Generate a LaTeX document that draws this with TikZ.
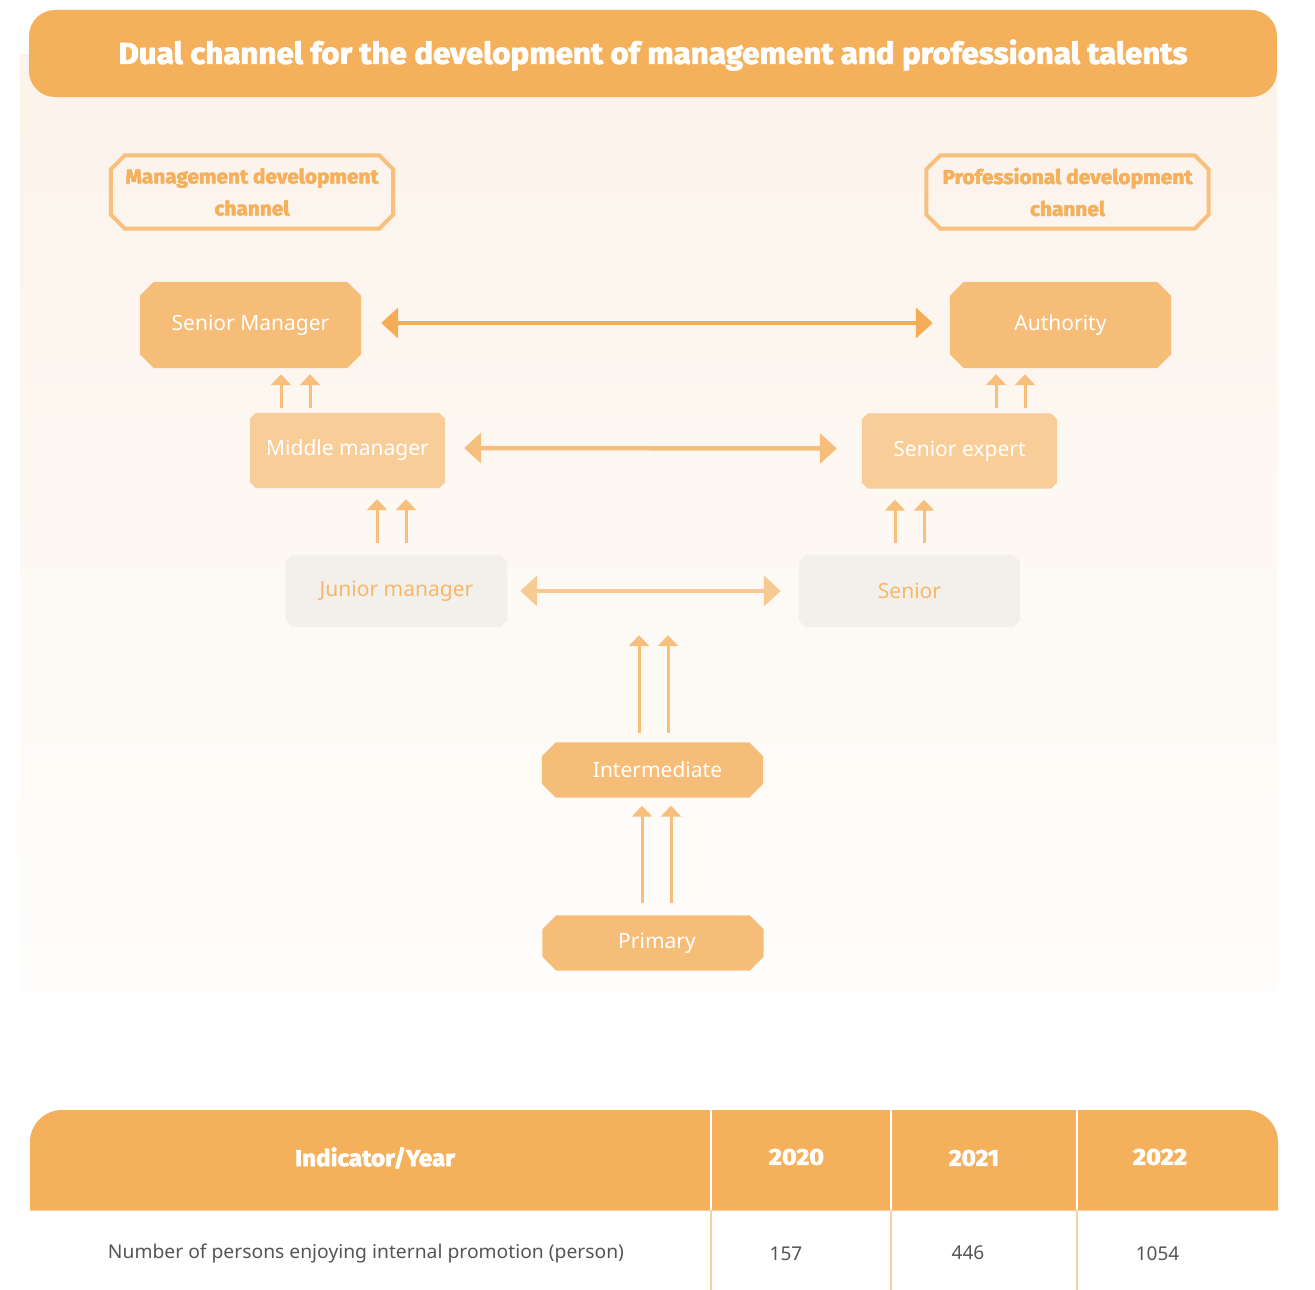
\documentclass[tikz,border=0pt]{standalone}
\usepackage{fontspec}
\usepackage{graphicx}
\setmainfont{Noto Sans}
\newfontfamily\headfont{Fira Sans}[BoldFeatures={FakeBold=2.6}]
\usetikzlibrary{arrows.meta}
\definecolor{barorange}{HTML}{F5B05C}
\definecolor{chanline}{HTML}{F8C07C}
\definecolor{darkfill}{HTML}{F6BD78}
\definecolor{midfill}{HTML}{F9CD97}
\definecolor{lowfill}{HTML}{F3F0EB}
\definecolor{lowtext}{HTML}{F5B86A}
\definecolor{arrowA}{HTML}{F4AC55}
\definecolor{arrowB}{HTML}{F6BE7C}
\definecolor{arrowC}{HTML}{F8CA93}
\definecolor{uparrow}{HTML}{F7BF7B}
\definecolor{creamtop}{HTML}{FCF3EA}
\definecolor{creambot}{HTML}{FEFDFB}
\definecolor{bodytext}{HTML}{555555}
\definecolor{bodyline}{HTML}{F8CFA0}
\newcommand\fitto[2]{\resizebox{#1}{\height}{#2}}
\newcommand\boldface{\headfont\bfseries}
% octagon drawn round a named node: name, chamfer, path options
\newcommand\octbox[3]{\path[#3] ([xshift=#2]#1.north west) -- ([xshift=-#2]#1.north east)
  -- ([yshift=-#2]#1.north east) -- ([yshift=#2]#1.south east) -- ([xshift=-#2]#1.south east)
  -- ([xshift=#2]#1.south west) -- ([yshift=#2]#1.south west) -- ([yshift=-#2]#1.north west) -- cycle;}
\pgfdeclarelayer{bglayer}
\pgfdeclarelayer{boxlayer}
\pgfsetlayers{bglayer,boxlayer,main}
\begin{document}
\begin{tikzpicture}[x=1pt,y=-1pt,
  plainbox/.style={rectangle, inner sep=0pt},
  chanbox/.style={plainbox, minimum width=282pt, minimum height=73pt,
     text=barorange, align=center, font=\boldface\fontsize{20}{32}\selectfont},
  levelbox/.style={plainbox, minimum width=221pt, minimum height=86pt, text=white,
     font=\fontsize{21}{24}\selectfont},
  midbox/.style={plainbox, minimum width=195pt, minimum height=75pt, text=white,
     font=\fontsize{21}{24}\selectfont},
  lowbox/.style={plainbox, minimum width=221pt, minimum height=72pt, text=lowtext,
     font=\fontsize{21}{24}\selectfont},
  basebox/.style={plainbox, minimum width=221pt, minimum height=55pt, text=white,
     font=\fontsize{21}{24}\selectfont},
  dblarrow/.style={line width=4.5pt, {Triangle[width=30pt,length=17pt]}-{Triangle[width=30pt,length=17pt]}},
  uparr/.style={draw=uparrow, line width=3pt, -{Triangle[width=20pt,length=11pt]}},
  hdtext/.style={text=white, font=\boldface\fontsize{23}{26}\selectfont, inner sep=0pt},
  cell/.style={text=bodytext, font=\fontsize{19}{22}\selectfont, inner sep=0pt}
]
\useasboundingbox (0,0) rectangle (1315,1290);
\begin{pgfonlayer}{bglayer}
\fill[white] (0,0) rectangle (1315,1290);
\shade[top color=creamtop, bottom color=creambot] (20,55) rectangle (1277,990);
\end{pgfonlayer}
% title bar
\fill[barorange, rounded corners=26pt] (29,10) rectangle (1277,97);
\node[text=white, font=\boldface\fontsize{30}{32}\selectfont, inner sep=0pt] (title) at (653,55)
  {\fitto{1069pt}{Dual channel for the development of management and professional talents}};

% channel headers
\node[chanbox] (mch) at (252,192) {\fitto{253pt}{Management development}\\\fitto{75pt}{channel}};
\node[chanbox] (pch) at (1067.5,192) {\fitto{250pt}{Professional development}\\\fitto{75pt}{channel}};

% level nodes
\node[levelbox] (sm) at (250.5,325) {Senior Manager};
\node[levelbox] (au) at (1060.5,325) {Authority};
\node[midbox] (mm) at (347.5,450.5) {Middle manager};
\node[midbox] (se) at (959.5,451) {Senior expert};
\node[lowbox] (jm) at (396.5,591) {Junior manager};
\node[lowbox] (sn) at (909.5,591) {Senior};
\node[basebox] (im) at (652.5,770) {\hspace*{10pt}Intermediate};
\node[basebox] (pr) at (653,943) {\hspace*{8pt}Primary};

\begin{pgfonlayer}{boxlayer}
\octbox{mch}{14pt}{draw=chanline, line width=4pt}
\octbox{pch}{14pt}{draw=chanline, line width=4pt}
\octbox{sm}{14pt}{fill=darkfill}
\octbox{au}{14pt}{fill=darkfill}
\octbox{mm}{6pt}{fill=midfill}
\octbox{se}{6pt}{fill=midfill}
\octbox{jm}{7pt}{fill=lowfill}
\octbox{sn}{7pt}{fill=lowfill}
\octbox{im}{14pt}{fill=darkfill}
\octbox{pr}{14pt}{fill=darkfill}
\end{pgfonlayer}

% horizontal double arrows
\draw[dblarrow, draw=arrowA, shorten <=20pt, shorten >=17pt] ([yshift=2pt]sm.east) -- ([yshift=2pt]au.west);
\draw[dblarrow, draw=arrowB, shorten <=19pt, shorten >=25pt] ([yshift=2.5pt]mm.east) -- ([yshift=2.5pt]se.west);
\draw[dblarrow, draw=arrowC, shorten <=13pt, shorten >=18pt] (jm.east) -- (sn.west);

% upward promotion arrows
\foreach \xx in {281,310}
  \draw[uparr, shorten <=5pt, shorten >=6pt] (\xx,0 |- mm.north) -- (\xx,0 |- sm.south);
\foreach \xx in {996,1025}
  \draw[uparr, shorten <=5pt, shorten >=6pt] (\xx,0 |- se.north) -- (\xx,0 |- au.south);
\foreach \xx in {377,406}
  \draw[uparr, shorten <=12pt, shorten >=11pt] (\xx,0 |- jm.north) -- (\xx,0 |- mm.south);
\foreach \xx in {895,924}
  \draw[uparr, shorten <=12pt, shorten >=11pt] (\xx,0 |- sn.north) -- (\xx,0 |- se.south);
\foreach \xx in {639,668}
  \draw[uparr, shorten <=9pt, shorten >=8pt] (\xx,0 |- im.north) -- (\xx,0 |- jm.south);
\foreach \xx in {642,671}
  \draw[uparr, shorten <=12pt, shorten >=8pt] (\xx,0 |- pr.north) -- (\xx,0 |- im.south);

% table header
\begin{scope}
  \clip (0,1100) rectangle (1315,1210);
  \fill[barorange, rounded corners=32pt] (30,1110) rectangle (1278,1270);
\end{scope}
\foreach \xx in {711,891,1077} {
  \draw[white, line width=1.5pt] (\xx,1110) -- (\xx,1210);
  \draw[bodyline, line width=1.5pt] (\xx,1210) -- (\xx,1290);
}
\draw[bodyline, line width=1pt] (30,1210.5) -- (1278,1210.5);
\node[hdtext] (h0) at (375,1158) {\fitto{160pt}{Indicator/Year}};
\node[hdtext] (h1) at (796.5,1157) {\fitto{55pt}{2020}};
\node[hdtext] (h2) at (974,1158) {\fitto{50pt}{2021}};
\node[hdtext] (h3) at (1160,1157) {\fitto{54pt}{2022}};
% table body
\node[cell] (c0) at (366,1253) {\fitto{516pt}{Number of persons enjoying internal promotion (person)}};
\node[cell] (c1) at (786,1254) {157};
\node[cell] (c2) at (968,1253) {446};
\node[cell] (c3) at (1157.5,1254) {1054};
\end{tikzpicture}
\end{document}
